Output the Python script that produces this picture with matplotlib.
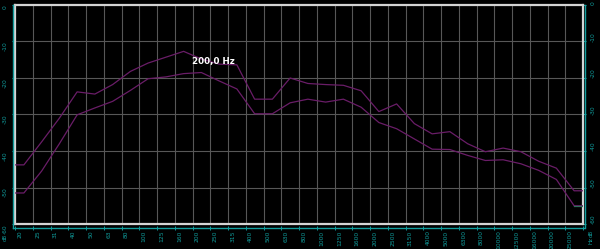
#!/usr/bin/env python3
"""
Third-octave spectrum plot, analyzer style (black background, teal axes)
"""

import matplotlib
matplotlib.use("Agg")
import matplotlib.pyplot as plt
from matplotlib.lines import Line2D
import numpy as np

# third-octave band labels
bands = ["20", "25", "31", "40", "50", "63", "80", "100", "125", "160",
         "200", "250", "315", "400", "500", "630", "800", "1000", "1250", "1600",
         "2000", "2500", "3150", "4000", "5000", "6300", "8000", "10000", "12500",
         "16000", "20000", "25000"]

# levels in dB
upper = [-43.8, -37.5, -31.0, -23.8, -24.4, -21.8, -18.2, -15.9, -14.3, -12.7,
         -14.8, -16.2, -16.4, -25.8, -25.8, -20.0, -21.5, -21.8, -22.0, -23.5,
         -29.2, -27.1, -32.5, -35.3, -34.7, -38.0, -40.2, -39.2, -40.2, -42.8,
         -44.7, -50.9]
lower = [-51.5, -45.5, -38.0, -30.1, -28.2, -26.4, -23.4, -20.2, -19.7, -18.8,
         -18.5, -20.8, -23.0, -29.8, -29.8, -26.8, -25.8, -26.6, -25.8, -28.0,
         -32.2, -33.9, -36.7, -39.5, -39.6, -41.2, -42.6, -42.4, -43.5, -45.3,
         -47.8, -55.0]
y_ticks = [0, -10, -20, -30, -40, -50, -60]
cursor_band = 10          # 200 Hz
cursor_text = "200,0 Hz"

BG = "black"
TEAL = "#109c9c"
GRID = "#575757"
BORDER = "#d4d4d4"
PURPLE = "#6a1d68"

n = len(bands)
fig = plt.figure(figsize=(6.0, 2.49), dpi=100, facecolor=BG)
ax = fig.add_axes([15 / 600, 1 - 224 / 249, 568 / 600, 219 / 249], facecolor=BG)

# each band value drawn at the middle of its band, held flat to the edges
xc = np.arange(n) + 0.5
xs = np.r_[0, xc, n]
for vals in (upper, lower):
    v = np.asarray(vals)
    ax.plot(xs, np.r_[v[0], v, v[-1]], color=PURPLE, lw=0.9, zorder=3)
# last bit of the lower trace shows up greenish in the original
ax.plot([xc[-1], n], [lower[-1], lower[-1]], color="#2f6f5c", lw=0.9, zorder=4)

ax.set_xlim(0, n)
ax.set_ylim(-60, 0)

# grid
for k in range(1, n):
    ax.axvline(k, color=GRID, lw=0.8, zorder=1)
for yv in y_ticks[1:-1]:
    ax.axhline(yv, color=GRID, lw=0.8, zorder=1)

for s in ax.spines.values():
    s.set_color(BORDER)
    s.set_linewidth(1.6)

# x ticks: marks on the gridlines, labels a bit to the right
ax.set_xticks(np.arange(n + 1))
ax.set_xticklabels([])
ax.tick_params(axis="x", which="major", length=0)
ax.set_xticks(np.arange(n) + 0.28, minor=True)
ax.set_xticklabels(bands, minor=True, rotation=90, va="top", ha="center")
ax.tick_params(axis="x", which="minor", length=0, pad=4.6,
               labelsize=4.3, labelcolor=TEAL)

# y ticks on both sides
ax.set_yticks(y_ticks)
ax.set_yticklabels([str(t) for t in y_ticks], rotation=90, va="center")
ax.tick_params(axis="y", which="both", left=True, right=True,
               labelleft=True, labelright=True, length=2.5, width=0.8,
               color=TEAL, labelcolor=TEAL, labelsize=4.3, pad=4.5)
for lab in ax.get_yticklabels():
    lab.set_rotation_mode("anchor")

# teal axis rails around the plot
xa = ax.get_xaxis_transform()
ax.plot([-0.12, n + 0.08], [-0.016, -0.016], transform=xa,
        color=TEAL, lw=1.0, clip_on=False)
fig.add_artist(Line2D([13.3 / 600, 13.3 / 600], [1 - 5 / 249, 1 - 227.5 / 249],
                      color=TEAL, lw=1.0))
fig.add_artist(Line2D([584.5 / 600, 584.5 / 600], [1 - 5 / 249, 1 - 227.5 / 249],
                      color=TEAL, lw=1.0))
ax.plot(np.arange(n + 1), np.full(n + 1, -0.016), "|", transform=xa,
        color=TEAL, ms=2.5, mew=0.7, clip_on=False)

# units
fig.text(5 / 600, 1 - 237 / 249, "dB", color=TEAL, fontsize=4.0,
         rotation=90, ha="center", va="center")
fig.text(591 / 600, 1 - 233 / 249, "dB", color=TEAL, fontsize=4.0,
         rotation=90, ha="center", va="center")
fig.text(591 / 600, 1 - 240 / 249, "Hz", color=TEAL, fontsize=4.0,
         rotation=90, ha="center", va="center")

# cursor readout
ax.text(cursor_band, -15.4, cursor_text, color="white", fontsize=6.3,
        fontweight="bold", ha="left", va="center", zorder=5)

fig.savefig("out.png", dpi=100, facecolor=BG)
